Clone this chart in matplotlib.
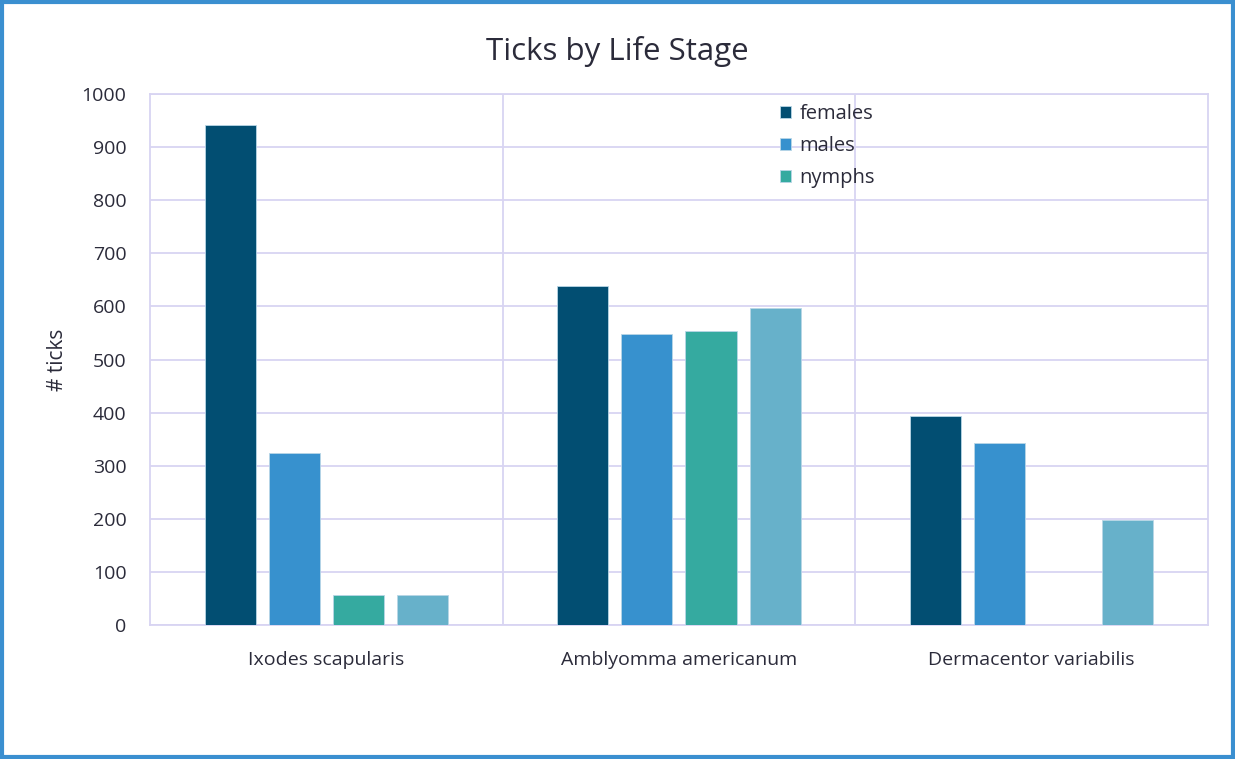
import matplotlib.pyplot as plt
from matplotlib.patches import Rectangle
import numpy as np

plt.rcParams['font.family'] = ['Open Sans', 'DejaVu Sans']

# Daten
species = ["Ixodes scapularis", "Amblyomma americanum", "Dermacentor variabilis"]
females = [941, 638, 393]
males = [324, 548, 342]
nymphs = [57, 553, 0]
larvae = [57, 598, 198]

series = [("females", females, "#024e72"),
          ("males", males, "#3791ce"),
          ("nymphs", nymphs, "#35aaa0"),
          ("_larvae", larvae, "#67b1ca")]

grid_col = "#d8d4f2"
text_col = "#2b2b3a"

fig = plt.figure(figsize=(12.35, 7.59), dpi=100)
ax = fig.add_axes([0.1215, 0.1765, 0.8565, 0.6995])

x = np.arange(len(species))
w = 0.145
step = 0.182
for i, (name, vals, col) in enumerate(series):
    ax.bar(x + (i - 1.5) * step, vals, width=w, color=col, label=name,
           edgecolor="#b9d6e6", linewidth=0.6, zorder=3)

ax.set_xlim(-0.5, 2.5)
ax.set_ylim(0, 1000)
ax.set_yticks(range(0, 1001, 100))
ax.set_xticks(x)
ax.set_xticklabels(species)
ax.grid(axis="y", color=grid_col, linewidth=1.3, zorder=0)
for b in [0.5, 1.5]:
    ax.axvline(b, color=grid_col, linewidth=1.3, zorder=0)
for s in ax.spines.values():
    s.set_color(grid_col)
    s.set_linewidth(1.3)
ax.tick_params(length=0, labelsize=14, labelcolor=text_col)
ax.tick_params(axis="y", pad=17)
ax.tick_params(axis="x", pad=19)

ax.set_ylabel("# ticks", fontsize=15, color=text_col, labelpad=10)
fig.text(0.5, 0.932, "Ticks by Life Stage", ha="center", va="center",
         fontsize=22.5, color=text_col)

ax.legend(loc="upper left", bbox_to_anchor=(0.578, 1.015), frameon=False,
          fontsize=14.5, handlelength=0.55, handleheight=0.55,
          labelspacing=0.6, handletextpad=0.45, labelcolor=text_col)

# blauer Rahmen
fig.patches.append(Rectangle((0.002, 0.003), 0.996, 0.994, transform=fig.transFigure,
                             fill=False, edgecolor="#3a8fd0", linewidth=3))

fig.savefig("out.png", dpi=100)
